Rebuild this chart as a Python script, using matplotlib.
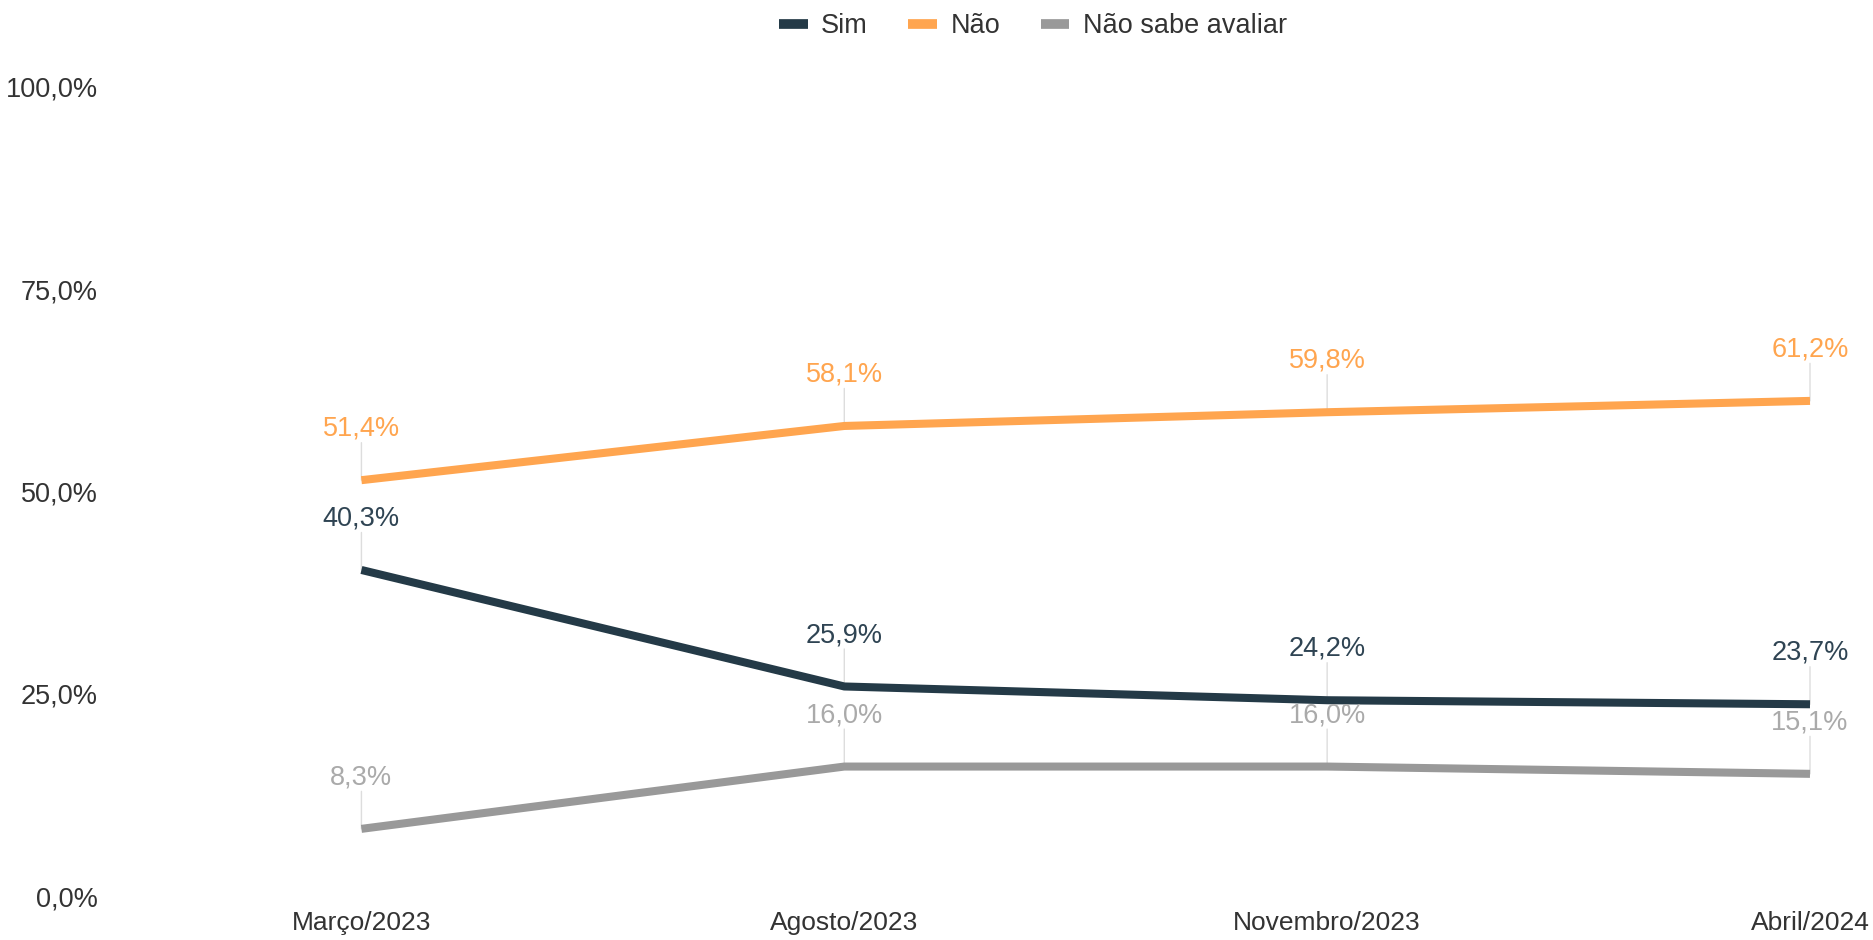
import matplotlib.pyplot as plt
from matplotlib.lines import Line2D

plt.rcParams['font.family'] = ['Liberation Sans', 'DejaVu Sans']

# Dados
periodos = ["Março/2023", "Agosto/2023", "Novembro/2023", "Abril/2024"]
sim = [40.3, 25.9, 24.2, 23.7]
nao = [51.4, 58.1, 59.8, 61.2]
nao_sabe = [8.3, 16.0, 16.0, 15.1]
series_nomes = ["Sim", "Não", "Não sabe avaliar"]
y_ticks = [0, 25, 50, 75, 100]

cores_linha = ["#243a47", "#ffa54f", "#999999"]
cores_rotulo = ["#2f4453", "#ffa54f", "#aaaaaa"]

fig = plt.figure(figsize=(18.74, 9.4), dpi=100)
ax = fig.add_axes([120 / 1874, 44 / 940, (1810 - 120) / 1874, (896 - 87) / 940])

x = list(range(len(periodos)))
for valores, cl, cr in zip([sim, nao, nao_sabe], cores_linha, cores_rotulo):
    ax.plot(x, valores, color=cl, lw=5.8, solid_capstyle="butt", zorder=3, clip_on=False)
    for xi, v in zip(x, valores):
        # linha guia
        ax.annotate("", xy=(xi, v), xytext=(0, 27), textcoords="offset points",
                    arrowprops=dict(arrowstyle="-", color="#dddddd", lw=1, shrinkA=0, shrinkB=0),
                    zorder=2, annotation_clip=False)
        ax.annotate(f"{v:.1f}%".replace(".", ","), xy=(xi, v), xytext=(0, 37),
                    textcoords="offset points", ha="center", va="center",
                    fontsize=19.5, color=cr, zorder=4, annotation_clip=False)

ax.set_xlim(-0.5, 3)
ax.set_ylim(0, 100)
ax.set_xticks(x)
ax.set_xticklabels(periodos, fontsize=19, color="#333333")
ax.set_yticks(y_ticks)
ax.set_yticklabels([f"{t:.1f}%".replace(".", ",") for t in y_ticks], fontsize=19.5, color="#333333")
ax.tick_params(length=0)
ax.tick_params(axis="x", pad=11)
ax.tick_params(axis="y", pad=16)
for s in ax.spines.values():
    s.set_visible(False)

handles = [Line2D([0], [0], color=c, lw=7, solid_capstyle="butt") for c in cores_linha]
fig.legend(handles, series_nomes, loc="center", bbox_to_anchor=(1033 / 1874, 1 - 26 / 940),
           ncol=3, frameon=False, fontsize=19.5, handlelength=1.05, handletextpad=0.5,
           columnspacing=1.5, labelcolor="#333333")

fig.savefig("out.png", dpi=100)
